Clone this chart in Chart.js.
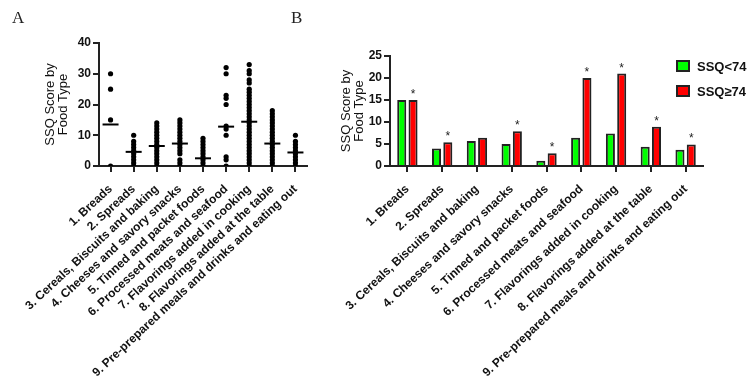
<!DOCTYPE html>
<html>
<head>
<meta charset="utf-8">
<script src="https://cdn.jsdelivr.net/npm/chart.js@4.4.0/dist/chart.umd.min.js"></script>
<style>
    body { margin: 0; background: #fff; }
    #wrap { position: relative; width: 754px; height: 386px; overflow: hidden; }
    canvas { position: absolute; top: 0; }
    .panel { position: absolute; top: 8px; font: 17px "Liberation Serif", "Times New Roman", serif; color: #222; }
</style>
</head>
<body>
<div id="wrap">
    <canvas id="dots-chart" style="left:0" width="330" height="386"></canvas>
    <canvas id="bars-chart" style="left:330px" width="424" height="386"></canvas>
    <div class="panel" style="left:12px">A</div>
    <div class="panel" style="left:291px">B</div>
</div>
<script>
// Food type categories
const categories = [
    '1. Breads',
    '2. Spreads',
    '3. Cereals, Biscuits and baking',
    '4. Cheeses and savory snacks',
    '5. Tinned and packet foods',
    '6. Processed meats and seafood',
    '7. Flavorings added in cooking',
    '8. Flavorings added at the table',
    '9. Pre-prepared meals and drinks and eating out'
];

// Panel A: individual scores per food type
const individualScores = [
    [0, 15, 25, 30],
    [0, 1, 2, 3, 4, 5, 6, 7, 8, 10],
    [0, 1, 2, 3, 4, 5, 6, 7, 8, 9, 10, 11, 12, 13, 14],
    [0, 1, 2, 4, 5, 6, 7, 8, 9, 10, 11, 12, 13, 14, 15],
    [0, 1, 2, 3, 4, 5, 6, 7, 8, 9],
    [0, 2, 3, 10, 12, 13, 20, 22, 23, 30, 32],
    [0, 1, 2, 3, 4, 5, 6, 7, 8, 9, 10, 11, 12, 13, 14, 15, 16, 17, 18, 19, 20, 21, 22, 23, 24, 25, 27, 28, 30, 31, 33],
    [0, 1, 2, 3, 4, 5, 6, 7, 8, 9, 10, 11, 12, 13, 14, 15, 16, 17, 18],
    [0, 1, 2, 3, 4, 5, 6, 7, 8, 10]
];
const meanScores = [13.5, 4.6, 6.5, 7.3, 2.5, 12.8, 14.4, 7.3, 4.4];
const dotTicks = [0, 10, 20, 30, 40];

// Panel B: mean score by group
const lowGroup = [15, 4, 5.7, 5, 1.2, 6.4, 7.4, 4.4, 3.7];
const highGroup = [15, 5.4, 6.4, 7.9, 2.9, 20, 21, 8.9, 4.9];
const significant = [true, true, false, true, true, true, true, true, true];
const barTicks = [0, 5, 10, 15, 20, 25];

const axisColor = '#222';
Chart.defaults.font.family = '"Liberation Sans", Arial, sans-serif';
Chart.defaults.color = '#222';
Chart.defaults.animation = false;

const xLabelFont = { size: 12, weight: 'bold' };
const yTickFont = { size: 12, weight: 'bold' };

function xAxis() {
    return {
        type: 'category',
        offset: true,
        border: { color: axisColor, width: 2 },
        grid: { display: true, offset: false, drawOnChartArea: false, drawTicks: true, tickLength: 6, color: axisColor, lineWidth: 2 },
        ticks: { autoSkip: false, minRotation: 43, maxRotation: 43, font: xLabelFont, color: '#111', padding: 10 },
        afterFit: (scale) => { scale.height = 220; }
    };
}

function yAxis(max, ticks, width) {
    return {
        min: 0,
        max: max,
        border: { color: axisColor, width: 2 },
        grid: { display: true, drawOnChartArea: false, drawTicks: true, tickLength: 6, color: axisColor, lineWidth: 2 },
        afterBuildTicks: (scale) => { scale.ticks = ticks.map(v => ({ value: v })); },
        ticks: { font: yTickFont, color: '#111', padding: 2 },
        title: {
            display: true,
            text: ['SSQ Score by', 'Food Type'],
            font: { size: 13, lineHeight: 1.0 },
            color: '#111',
            padding: 0
        },
        afterFit: (scale) => { scale.width = width; }
    };
}

// Panel A - dot plot with mean lines
function initDotChart() {
    const points = [];
    individualScores.forEach((scores, i) => {
        scores.forEach(v => points.push({ x: categories[i], y: v }));
    });
    const means = meanScores.map((m, i) => ({ x: categories[i], y: m }));

    new Chart(document.getElementById('dots-chart'), {
        type: 'line',
        data: {
            labels: categories,
            datasets: [{
                data: points,
                showLine: false,
                pointRadius: 2.6,
                pointBackgroundColor: '#000',
                pointBorderWidth: 0
            }, {
                data: means,
                showLine: false,
                pointStyle: 'line',
                pointRadius: 8,
                pointBorderColor: '#000',
                pointBorderWidth: 2
            }]
        },
        options: {
            responsive: false,
            layout: { padding: { left: 44, right: 23, top: 43, bottom: 0 } },
            plugins: { legend: { display: false }, tooltip: { enabled: false } },
            scales: {
                x: xAxis(),
                y: yAxis(40, dotTicks, 55)
            }
        }
    });
}

// Draws asterisks above the high group bars and the legend at top right
const barExtras = {
    id: 'barExtras',
    afterDatasetsDraw(chart) {
        const ctx = chart.ctx;
        const highBars = chart.getDatasetMeta(1).data;
        ctx.save();
        ctx.fillStyle = '#222';
        ctx.font = '12px "Liberation Sans", Arial';
        ctx.textAlign = 'center';
        ctx.textBaseline = 'alphabetic';
        highBars.forEach((bar, i) => {
            if (significant[i]) ctx.fillText('*', bar.x, bar.y - 2);
        });

        // legend
        const left = 347;
        chart.data.datasets.forEach((ds, i) => {
            const cy = 66 + i * 25;
            ctx.fillStyle = ds.backgroundColor;
            ctx.fillRect(left, cy - 5, 12, 10);
            ctx.strokeStyle = '#222';
            ctx.lineWidth = 2;
            ctx.strokeRect(left, cy - 5, 12, 10);
            ctx.fillStyle = '#111';
            ctx.font = 'bold 13px "Liberation Sans", Arial';
            ctx.textAlign = 'left';
            ctx.textBaseline = 'middle';
            ctx.fillText(ds.label, left + 20, cy + 1);
        });
        ctx.restore();
    }
};

// Panel B - grouped bars
function initBarChart() {
    new Chart(document.getElementById('bars-chart'), {
        type: 'bar',
        data: {
            labels: categories,
            datasets: [{
                label: 'SSQ<74',
                data: lowGroup,
                backgroundColor: '#00ff00',
                borderColor: '#222',
                borderWidth: 2,
                borderSkipped: 'bottom'
            }, {
                label: 'SSQ\u226574',
                data: highGroup,
                backgroundColor: '#ff0000',
                borderColor: '#222',
                borderWidth: 2,
                borderSkipped: 'bottom'
            }]
        },
        options: {
            responsive: false,
            categoryPercentage: 0.65,
            barPercentage: 0.8,
            layout: { padding: { left: 10, right: 51, top: 56, bottom: 0 } },
            plugins: { legend: { display: false }, tooltip: { enabled: false } },
            scales: {
                x: xAxis(),
                y: yAxis(25, barTicks, 50)
            }
        },
        plugins: [barExtras]
    });
}

document.addEventListener('DOMContentLoaded', () => {
    initDotChart();
    initBarChart();
});
</script>
</body>
</html>
